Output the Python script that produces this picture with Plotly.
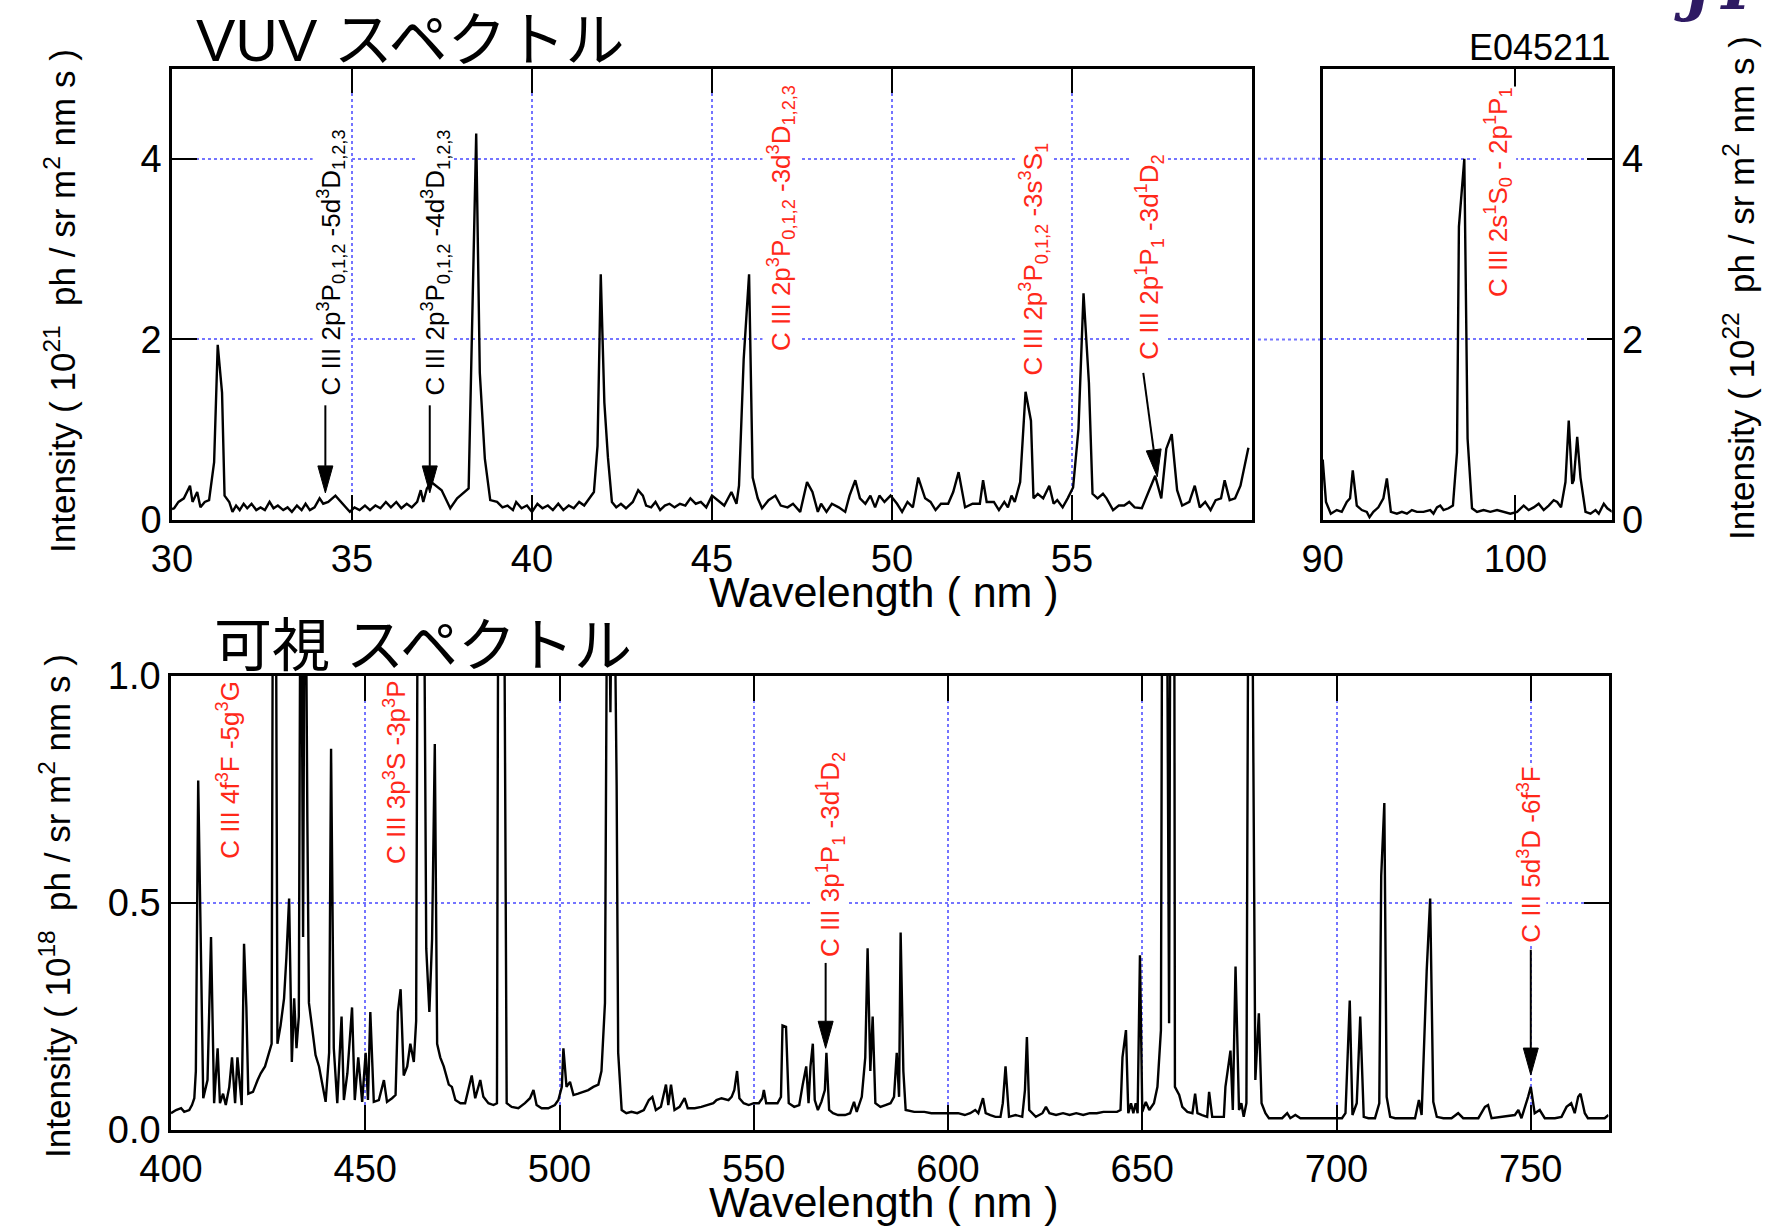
import math
import plotly.graph_objects as go

W, H = 1765, 1226

# ---------------- data (wavelength nm, intensity) ----------------
vuv_short = [
    (30.00, 0.12), (30.06, 0.13), (30.18, 0.20), (30.33, 0.24), (30.50, 0.38), (30.57, 0.20), (30.70, 0.31),
    (30.79, 0.14), (30.91, 0.20), (31.03, 0.22), (31.17, 0.64), (31.27, 1.94), (31.39, 1.41), (31.46, 0.27),
    (31.59, 0.20), (31.68, 0.09), (31.78, 0.16), (31.88, 0.11), (31.99, 0.18), (32.09, 0.13), (32.21, 0.18),
    (32.34, 0.11), (32.46, 0.14), (32.58, 0.11), (32.71, 0.20), (32.82, 0.13), (32.94, 0.16), (33.09, 0.11),
    (33.21, 0.14), (33.33, 0.09), (33.47, 0.16), (33.60, 0.11), (33.71, 0.18), (33.83, 0.11), (33.96, 0.14),
    (34.10, 0.24), (34.20, 0.18), (34.34, 0.20), (34.54, 0.27), (34.73, 0.18), (34.94, 0.09), (35.07, 0.14),
    (35.21, 0.11), (35.36, 0.16), (35.50, 0.11), (35.65, 0.16), (35.79, 0.13), (35.94, 0.20), (36.08, 0.14),
    (36.23, 0.20), (36.37, 0.13), (36.52, 0.18), (36.66, 0.14), (36.81, 0.20), (36.91, 0.33), (36.98, 0.20),
    (37.08, 0.35), (37.20, 0.42), (37.34, 0.38), (37.49, 0.33), (37.73, 0.13), (37.92, 0.24), (38.24, 0.35),
    (38.45, 4.28), (38.55, 1.63), (38.69, 0.68), (38.84, 0.22), (39.03, 0.20), (39.18, 0.14), (39.32, 0.16),
    (39.47, 0.11), (39.56, 0.20), (39.71, 0.13), (39.86, 0.16), (40.00, 0.09), (40.15, 0.18), (40.29, 0.13),
    (40.44, 0.16), (40.58, 0.11), (40.73, 0.18), (40.87, 0.11), (41.02, 0.16), (41.16, 0.13), (41.31, 0.20),
    (41.45, 0.16), (41.60, 0.24), (41.72, 0.31), (41.82, 0.82), (41.91, 2.72), (42.01, 1.30), (42.11, 0.69),
    (42.22, 0.20), (42.34, 0.14), (42.47, 0.18), (42.61, 0.13), (42.80, 0.20), (42.95, 0.33), (43.08, 0.27),
    (43.17, 0.16), (43.31, 0.14), (43.43, 0.20), (43.56, 0.11), (43.69, 0.16), (43.82, 0.18), (43.96, 0.14),
    (44.11, 0.18), (44.26, 0.16), (44.40, 0.24), (44.55, 0.18), (44.69, 0.20), (44.84, 0.14), (45.00, 0.27),
    (45.34, 0.16), (45.54, 0.31), (45.68, 0.18), (45.75, 0.38), (45.88, 1.78), (46.03, 2.72), (46.13, 0.47),
    (46.27, 0.24), (46.39, 0.13), (46.57, 0.22), (46.76, 0.27), (46.91, 0.16), (47.10, 0.14), (47.25, 0.18),
    (47.45, 0.09), (47.64, 0.42), (47.79, 0.31), (47.94, 0.09), (48.03, 0.18), (48.18, 0.09), (48.33, 0.18),
    (48.52, 0.14), (48.70, 0.09), (48.82, 0.27), (48.98, 0.44), (49.11, 0.24), (49.26, 0.18), (49.40, 0.27),
    (49.53, 0.14), (49.65, 0.27), (49.79, 0.20), (49.96, 0.27), (50.14, 0.18), (50.28, 0.09), (50.43, 0.20),
    (50.58, 0.14), (50.73, 0.47), (50.92, 0.24), (51.07, 0.20), (51.21, 0.11), (51.36, 0.18), (51.56, 0.18),
    (51.70, 0.31), (51.85, 0.53), (52.03, 0.14), (52.24, 0.18), (52.44, 0.18), (52.53, 0.44), (52.63, 0.20),
    (52.83, 0.20), (52.97, 0.11), (53.12, 0.20), (53.22, 0.14), (53.32, 0.27), (53.41, 0.20), (53.56, 0.42),
    (53.71, 1.42), (53.86, 1.10), (53.93, 0.24), (54.05, 0.29), (54.20, 0.24), (54.37, 0.38), (54.49, 0.18),
    (54.59, 0.22), (54.74, 0.14), (54.88, 0.24), (55.03, 0.36), (55.18, 1.01), (55.32, 2.51), (55.47, 1.52),
    (55.57, 0.29), (55.71, 0.24), (55.86, 0.29), (55.96, 0.24), (56.14, 0.11), (56.30, 0.16), (56.45, 0.16),
    (56.59, 0.20), (56.74, 0.14), (56.94, 0.13), (57.13, 0.31), (57.31, 0.49), (57.48, 0.24), (57.62, 0.79),
    (57.77, 0.95), (57.92, 0.33), (58.06, 0.16), (58.26, 0.20), (58.41, 0.38), (58.55, 0.14), (58.70, 0.20),
    (58.85, 0.11), (58.99, 0.22), (59.14, 0.24), (59.24, 0.44), (59.38, 0.22), (59.53, 0.24), (59.68, 0.38),
    (59.90, 0.80),
]

vuv_long = [
    (90.00, 0.67), (90.17, 0.20), (90.42, 0.07), (90.73, 0.11), (90.99, 0.09), (91.25, 0.20), (91.42, 0.24),
    (91.56, 0.55), (91.77, 0.16), (92.03, 0.11), (92.29, 0.09), (92.43, 0.03), (92.63, 0.09), (92.89, 0.14),
    (93.15, 0.24), (93.33, 0.46), (93.54, 0.09), (93.85, 0.07), (94.11, 0.09), (94.37, 0.07), (94.63, 0.11),
    (94.89, 0.09), (95.23, 0.09), (95.58, 0.11), (95.75, 0.07), (95.93, 0.14), (96.10, 0.16), (96.27, 0.11),
    (96.53, 0.13), (96.76, 0.16), (96.97, 0.75), (97.07, 3.25), (97.35, 4.00), (97.52, 0.90), (97.75, 0.13),
    (98.01, 0.09), (98.35, 0.11), (98.70, 0.09), (99.05, 0.11), (99.39, 0.09), (99.74, 0.07), (100.09, 0.09),
    (100.43, 0.16), (100.69, 0.11), (100.95, 0.14), (101.21, 0.18), (101.47, 0.11), (101.73, 0.16),
    (101.99, 0.22), (102.17, 0.20), (102.37, 0.14), (102.60, 0.42), (102.77, 1.10), (102.95, 0.40),
    (103.03, 0.44), (103.21, 0.92), (103.38, 0.47), (103.64, 0.09), (103.90, 0.07), (104.16, 0.11),
    (104.33, 0.07), (104.59, 0.18), (104.77, 0.13), (105.03, 0.09),
]

vis = [
    (400.0, 0.037), (401.3, 0.044), (402.6, 0.048), (403.4, 0.040), (404.7, 0.044), (405.4, 0.055),
    (406.0, 0.070), (406.4, 0.13), (407.0, 0.77), (407.7, 0.41), (408.3, 0.07), (409.4, 0.11), (410.3, 0.425),
    (411.1, 0.059), (412.0, 0.18), (412.6, 0.059), (413.4, 0.08), (414.1, 0.055), (415.0, 0.095),
    (415.7, 0.16), (416.5, 0.059), (417.1, 0.16), (418.2, 0.055), (418.8, 0.41), (419.4, 0.27), (419.9, 0.08),
    (421.1, 0.084), (422.3, 0.11), (423.1, 0.125), (424.2, 0.14), (425.2, 0.17), (425.9, 0.19), (426.3, 1.5),
    (426.6, 1.2), (426.9, 1.5), (427.4, 0.19), (428.2, 0.23), (429.1, 0.29), (429.7, 0.38), (430.4, 0.51),
    (431.1, 0.15), (431.7, 0.29), (432.3, 0.18), (432.9, 0.25), (433.4, 1.5), (434.0, 0.425), (434.5, 1.5),
    (435.1, 0.68), (435.5, 0.28), (436.4, 0.22), (437.2, 0.165), (438.1, 0.14), (438.9, 0.10), (439.8, 0.062),
    (440.7, 0.17), (441.2, 0.84), (441.9, 0.18), (442.8, 0.059), (443.9, 0.25), (444.5, 0.066),
    (445.4, 0.125), (446.6, 0.27), (447.3, 0.066), (448.2, 0.16), (449.2, 0.062), (450.1, 0.17),
    (450.7, 0.066), (451.3, 0.26), (452.2, 0.062), (453.5, 0.066), (454.8, 0.11), (455.6, 0.062),
    (456.9, 0.07), (457.8, 0.077), (458.4, 0.26), (459.1, 0.31), (459.9, 0.12), (460.8, 0.14), (461.6, 0.19),
    (462.5, 0.15), (463.1, 0.24), (463.6, 1.5), (464.6, 2.0), (465.7, 0.40), (466.5, 0.26), (467.2, 0.42),
    (467.9, 0.85), (468.5, 0.19), (469.3, 0.16), (470.2, 0.14), (471.5, 0.10), (472.3, 0.095), (473.2, 0.066),
    (474.5, 0.059), (475.7, 0.059), (477.4, 0.12), (478.3, 0.07), (479.6, 0.11), (480.4, 0.073),
    (481.7, 0.059), (483.0, 0.055), (483.9, 0.059), (484.3, 1.5), (485.6, 1.5), (486.4, 0.059),
    (487.7, 0.051), (489.4, 0.048), (491.1, 0.059), (492.4, 0.07), (493.3, 0.088), (494.1, 0.055),
    (495.4, 0.048), (497.1, 0.048), (498.8, 0.055), (499.7, 0.066), (500.6, 0.095), (501.0, 0.18),
    (501.8, 0.095), (502.7, 0.106), (503.6, 0.077), (504.8, 0.08), (506.1, 0.084), (507.4, 0.088),
    (508.7, 0.095), (510.0, 0.10), (510.8, 0.13), (511.7, 0.28), (512.4, 1.5), (513.1, 0.92), (513.8, 1.5),
    (514.7, 0.76), (515.1, 0.17), (516.0, 0.044), (517.2, 0.037), (518.5, 0.04), (520.0, 0.037),
    (521.7, 0.044), (523.0, 0.066), (523.9, 0.073), (524.8, 0.044), (526.1, 0.051), (527.4, 0.10),
    (528.0, 0.055), (528.7, 0.10), (529.6, 0.044), (530.9, 0.051), (532.2, 0.07), (533.0, 0.048),
    (534.8, 0.048), (536.5, 0.051), (538.3, 0.055), (539.6, 0.059), (540.4, 0.066), (541.7, 0.07),
    (543.5, 0.066), (544.3, 0.073), (545.0, 0.088), (545.7, 0.13), (546.3, 0.07), (547.4, 0.059),
    (548.7, 0.055), (550.0, 0.059), (551.3, 0.059), (552.2, 0.07), (552.6, 0.088), (553.2, 0.059),
    (554.8, 0.059), (556.1, 0.059), (557.0, 0.073), (557.4, 0.23), (558.3, 0.227), (559.0, 0.059),
    (560.4, 0.051), (561.7, 0.055), (562.6, 0.10), (563.5, 0.14), (564.1, 0.059), (564.6, 0.14),
    (565.2, 0.19), (565.7, 0.066), (566.5, 0.044), (567.4, 0.062), (568.3, 0.088), (568.7, 0.17),
    (569.4, 0.044), (570.4, 0.037), (571.7, 0.033), (573.5, 0.033), (574.8, 0.037), (575.8, 0.062),
    (576.5, 0.04), (577.8, 0.073), (578.7, 0.16), (579.3, 0.40), (580.0, 0.13), (580.6, 0.25),
    (581.3, 0.059), (582.6, 0.051), (583.9, 0.055), (585.2, 0.059), (586.1, 0.073), (586.8, 0.17),
    (587.4, 0.073), (587.8, 0.435), (588.5, 0.13), (589.1, 0.044), (591.3, 0.04), (593.9, 0.04),
    (595.7, 0.037), (597.4, 0.037), (598.7, 0.037), (600.0, 0.037), (601.3, 0.037), (602.6, 0.037),
    (604.3, 0.033), (605.7, 0.037), (607.0, 0.044), (607.8, 0.037), (609.0, 0.07), (609.7, 0.037),
    (610.9, 0.033), (612.2, 0.029), (613.5, 0.029), (614.1, 0.059), (614.8, 0.14), (615.7, 0.029),
    (617.4, 0.033), (619.1, 0.029), (619.8, 0.088), (620.3, 0.205), (620.9, 0.044), (622.6, 0.029),
    (624.3, 0.037), (625.2, 0.051), (626.1, 0.037), (627.8, 0.033), (629.6, 0.037), (631.3, 0.033),
    (633.0, 0.037), (634.8, 0.033), (636.5, 0.037), (638.3, 0.037), (640.0, 0.04), (641.7, 0.04),
    (643.5, 0.04), (644.4, 0.044), (644.9, 0.16), (645.8, 0.22), (646.4, 0.037), (647.1, 0.059),
    (647.7, 0.037), (648.3, 0.059), (648.8, 0.037), (649.4, 0.385), (650.0, 0.04), (650.9, 0.062),
    (651.8, 0.044), (653.0, 0.059), (653.9, 0.095), (654.8, 0.22), (655.2, 1.5), (656.2, 1.5),
    (656.9, 0.235), (657.3, 1.5), (658.2, 1.5), (658.4, 0.095), (659.5, 0.077), (660.3, 0.051),
    (661.6, 0.04), (662.9, 0.037), (663.6, 0.08), (664.2, 0.037), (665.4, 0.033), (666.7, 0.029),
    (667.2, 0.084), (668.0, 0.029), (669.7, 0.029), (671.0, 0.029), (671.4, 0.095), (672.7, 0.175),
    (673.3, 0.044), (674.0, 0.36), (674.9, 0.044), (675.5, 0.059), (676.1, 0.029), (676.8, 0.059),
    (677.4, 1.5), (678.1, 1.5), (679.1, 0.11), (680.0, 0.257), (680.7, 0.059), (681.7, 0.037),
    (682.6, 0.026), (684.3, 0.026), (686.0, 0.026), (687.3, 0.037), (688.1, 0.026), (689.4, 0.033),
    (690.7, 0.026), (692.8, 0.026), (694.5, 0.026), (696.3, 0.026), (698.0, 0.026), (699.7, 0.026),
    (701.4, 0.026), (702.3, 0.037), (703.4, 0.285), (704.1, 0.033), (705.2, 0.059), (706.1, 0.25),
    (707.0, 0.029), (708.2, 0.026), (709.9, 0.026), (711.0, 0.059), (711.5, 0.56), (712.3, 0.72),
    (712.9, 0.073), (713.8, 0.029), (715.1, 0.026), (716.8, 0.026), (718.5, 0.026), (720.2, 0.026),
    (721.2, 0.066), (721.9, 0.033), (723.2, 0.35), (724.1, 0.51), (724.9, 0.062), (725.8, 0.029),
    (727.5, 0.026), (729.6, 0.026), (731.3, 0.037), (732.6, 0.026), (734.8, 0.026), (736.5, 0.026),
    (738.2, 0.051), (739.0, 0.055), (739.9, 0.026), (742.5, 0.029), (745.9, 0.033), (746.8, 0.044),
    (747.6, 0.026), (749.3, 0.073), (750.0, 0.095), (751.0, 0.037), (752.3, 0.044), (753.6, 0.026),
    (756.2, 0.026), (757.9, 0.029), (759.2, 0.051), (760.4, 0.059), (761.3, 0.037), (762.2, 0.073),
    (762.8, 0.08), (763.9, 0.037), (764.7, 0.026), (767.3, 0.026), (769.0, 0.026), (770.0, 0.033),
]

vuv_short_ticks = [30, 35, 40, 45, 50, 55]
vuv_long_ticks = [90, 100]
vuv_y_ticks = [0, 2, 4]
vis_ticks = [400, 450, 500, 550, 600, 650, 700, 750]
vis_y_ticks = [0.0, 0.5, 1.0]
vis_y_ticktext = ["0.0", "0.5", "1.0"]

RED = "rgb(255,40,25)"
# line labels: (axis, x, y, text, colour)
line_labels = [
    ("1", 34.41, 2.85, "C III 2p<sup>3</sup>P<sub>0,1,2</sub> -5d<sup>3</sup>D<sub>1,2,3</sub>", "black"),
    ("1", 37.30, 2.85, "C III 2p<sup>3</sup>P<sub>0,1,2</sub> -4d<sup>3</sup>D<sub>1,2,3</sub>", "black"),
    ("1", 46.93, 3.35, "C III 2p<sup>3</sup>P<sub>0,1,2</sub> -3d<sup>3</sup>D<sub>1,2,3</sub>", RED),
    ("1", 53.93, 2.89, "C III 2p<sup>3</sup>P<sub>0,1,2</sub> -3s<sup>3</sup>S<sub>1</sub>", RED),
    ("1", 57.15, 2.91, "C III 2p<sup>1</sup>P<sub>1</sub> -3d<sup>1</sup>D<sub>2</sub>", RED),
    ("2", 99.09, 3.63, "C III 2s<sup>1</sup>S<sub>0</sub> - 2p<sup>1</sup>P<sub>1</sub>", RED),
    ("3", 414.9, 0.793, "C III 4f<sup>3</sup>F -5g<sup>3</sup>G", RED),
    ("3", 457.6, 0.788, "C III 3p<sup>3</sup>S -3p<sup>3</sup>P", RED),
    ("3", 569.8, 0.607, "C III 3p<sup>1</sup>P<sub>1</sub> -3d<sup>1</sup>D<sub>2</sub>", RED),
    ("3", 749.6, 0.607, "C III 5d<sup>3</sup>D -6f<sup>3</sup>F", RED),
]
# arrows: (axis, x_start, y_start, x_tip, y_tip)
arrows = [
    ("1", 34.26, 1.27, 34.26, 0.30),
    ("1", 37.16, 1.27, 37.16, 0.30),
    ("1", 56.98, 1.63, 57.37, 0.48),
    ("3", 568.5, 0.368, 568.5, 0.18),
    ("3", 750.0, 0.397, 750.0, 0.121),
]

# ---------------- layout geometry ----------------
X1 = [172 / W, 1252 / W]
X2 = [1322.7 / W, 1611.7 / W]
Y1 = [1 - 520 / H, 1 - 68.5 / H]
X3 = [171 / W, 1608.5 / W]
Y3 = [1 - 1130 / H, 1 - 676 / H]
R1, R2, R3 = [30, 60], [90, 105], [400, 770]
RY1, RY3 = [0, 5], [0, 1]

FONT = "Liberation Sans, Arial, Helvetica, sans-serif"
CJK = "Liberation Sans, Noto Sans CJK JP, sans-serif"
GRID = "#7474ff"

fig = go.Figure()
line = dict(color="black", width=2.4)
fig.add_trace(go.Scatter(x=[p[0] for p in vuv_short], y=[p[1] for p in vuv_short], mode="lines",
                         line=line, xaxis="x", yaxis="y", showlegend=False))
fig.add_trace(go.Scatter(x=[p[0] for p in vuv_long], y=[p[1] for p in vuv_long], mode="lines",
                         line=line, xaxis="x2", yaxis="y2", showlegend=False))
fig.add_trace(go.Scatter(x=[p[0] for p in vis], y=[p[1] for p in vis], mode="lines",
                         line=line, xaxis="x3", yaxis="y3", showlegend=False))


def axis(domain, rng, tickvals, mirror, showgrid=True, **kw):
    d = dict(domain=domain, range=rng, tickvals=tickvals, ticks="inside", ticklen=25, tickwidth=2,
             tickcolor="black", showline=True, linecolor="black", linewidth=2.5, mirror=mirror,
             showgrid=showgrid, gridcolor=GRID, gridwidth=2, griddash="dot", zeroline=False,
             automargin=False, tickfont=dict(family=FONT, size=38, color="black"), fixedrange=True)
    d.update(kw)
    return d


fig.update_layout(
    width=W, height=H, autosize=False, template="none",
    margin=dict(l=0, r=0, t=0, b=0, pad=0),
    paper_bgcolor="white", plot_bgcolor="white", showlegend=False,
    xaxis=axis(X1, R1, vuv_short_ticks, "ticks", anchor="y", ticklabelstandoff=4),
    yaxis=axis(Y1, RY1, vuv_y_ticks, True, anchor="x"),
    xaxis2=axis(X2, R2, vuv_long_ticks, "ticks", showgrid=False, anchor="y2", ticklabelstandoff=4),
    yaxis2=axis(Y1, RY1, vuv_y_ticks, True, anchor="x2", side="right"),
    xaxis3=axis(X3, R3, vis_ticks, "ticks", anchor="y3", ticklabelstandoff=4),
    yaxis3=axis(Y3, RY3, vis_y_ticks, "ticks", anchor="x3", ticktext=vis_y_ticktext),
)

axes = {"1": ("x", "y", R1, RY1, X1, Y1), "2": ("x2", "y2", R2, RY1, X2, Y1), "3": ("x3", "y3", R3, RY3, X3, Y3)}

annotations = []
for ax, x, y, text, col in line_labels:
    xr, yr = axes[ax][0], axes[ax][1]
    annotations.append(dict(x=x, y=y, xref=xr, yref=yr, text=text, textangle=-90, showarrow=False,
                            xanchor="center", yanchor="middle", bgcolor="white", borderpad=0,
                            font=dict(family=FONT, size=26, color=col)))

shapes = []
# dotted grid continuing across the gap between the two VUV panels
for yv in [2, 4]:
    shapes.append(dict(type="line", xref="paper", yref="y", x0=X1[1], x1=X2[0], y0=yv, y1=yv,
                       line=dict(color=GRID, width=2, dash="dot"), layer="below"))

HEAD_L, HEAD_W = 27, 15
for ax, xs, ys, xt, yt in arrows:
    xr, yr, rx, ry, dx_, dy_ = axes[ax]
    ppx = (dx_[1] - dx_[0]) * W / (rx[1] - rx[0])
    ppy = (dy_[1] - dy_[0]) * H / (ry[1] - ry[0])
    vx, vy = (xt - xs) * ppx, (yt - ys) * ppy
    n = math.hypot(vx, vy)
    ux, uy = vx / n, vy / n
    bx, by = -HEAD_L * ux, -HEAD_L * uy
    px, py = -uy, ux
    base_x, base_y = xt + bx / ppx, yt + by / ppy
    p1 = (xt + (bx + px * HEAD_W / 2) / ppx, yt + (by + py * HEAD_W / 2) / ppy)
    p2 = (xt + (bx - px * HEAD_W / 2) / ppx, yt + (by - py * HEAD_W / 2) / ppy)
    shapes.append(dict(type="line", xref=xr, yref=yr, x0=xs, y0=ys, x1=base_x, y1=base_y,
                       line=dict(color="black", width=2)))
    shapes.append(dict(type="path", xref=xr, yref=yr,
                       path=f"M {xt},{yt} L {p1[0]},{p1[1]} L {p2[0]},{p2[1]} Z",
                       fillcolor="black", line=dict(color="black", width=1)))

YT = "Intensity ( 10<sup>{e}</sup>\u00a0 ph / sr m<sup>2</sup> nm s )"
# titles and axis titles
annotations += [
    dict(text="VUV スペクトル", x=194 / W, y=1 - 41 / H, xref="paper", yref="paper", xanchor="left",
         yanchor="middle", showarrow=False, font=dict(family=CJK, size=59, color="black")),
    dict(text="可視 スペクトル", x=212 / W, y=1 - 645 / H, xref="paper", yref="paper", xanchor="left",
         yanchor="middle", showarrow=False, font=dict(family=CJK, size=58, color="black")),
    dict(text="E045211", x=1612 / W, y=1 - 47 / H, xref="paper", yref="paper", xanchor="right",
         yanchor="middle", showarrow=False, font=dict(family=FONT, size=36, color="black")),
    dict(text="Wavelength ( nm )", x=884 / W, y=1 - 592 / H, xref="paper", yref="paper",
         xanchor="center", yanchor="middle", showarrow=False, font=dict(family=FONT, size=43, color="black")),
    dict(text="Wavelength ( nm )", x=884 / W, y=1 - 1202 / H, xref="paper", yref="paper",
         xanchor="center", yanchor="middle", showarrow=False, font=dict(family=FONT, size=43, color="black")),
    dict(text=YT.format(e=21), x=60 / W, y=1 - 301 / H,
         xref="paper", yref="paper", textangle=-90, xanchor="center", yanchor="middle", showarrow=False,
         font=dict(family=FONT, size=35, color="black")),
    dict(text=YT.format(e=18), x=55 / W, y=1 - 906 / H,
         xref="paper", yref="paper", textangle=-90, xanchor="center", yanchor="middle", showarrow=False,
         font=dict(family=FONT, size=35, color="black")),
    dict(text=YT.format(e=22), x=1739 / W, y=1 - 288 / H,
         xref="paper", yref="paper", textangle=-90, xanchor="center", yanchor="middle", showarrow=False,
         font=dict(family=FONT, size=35, color="black")),
    dict(text="JT-60", x=1672 / W, y=1 - 26 / H, xref="paper", yref="paper", xanchor="left",
         yanchor="bottom", showarrow=False,
         font=dict(family="DejaVu Serif", size=62, color="#2e1a63", style="italic", weight="bold")),
]

fig.update_layout(annotations=annotations, shapes=shapes)
fig.write_html("out.html", config={"displayModeBar": False},
               post_script="document.body.style.margin='0px';document.body.style.overflow='hidden';")
